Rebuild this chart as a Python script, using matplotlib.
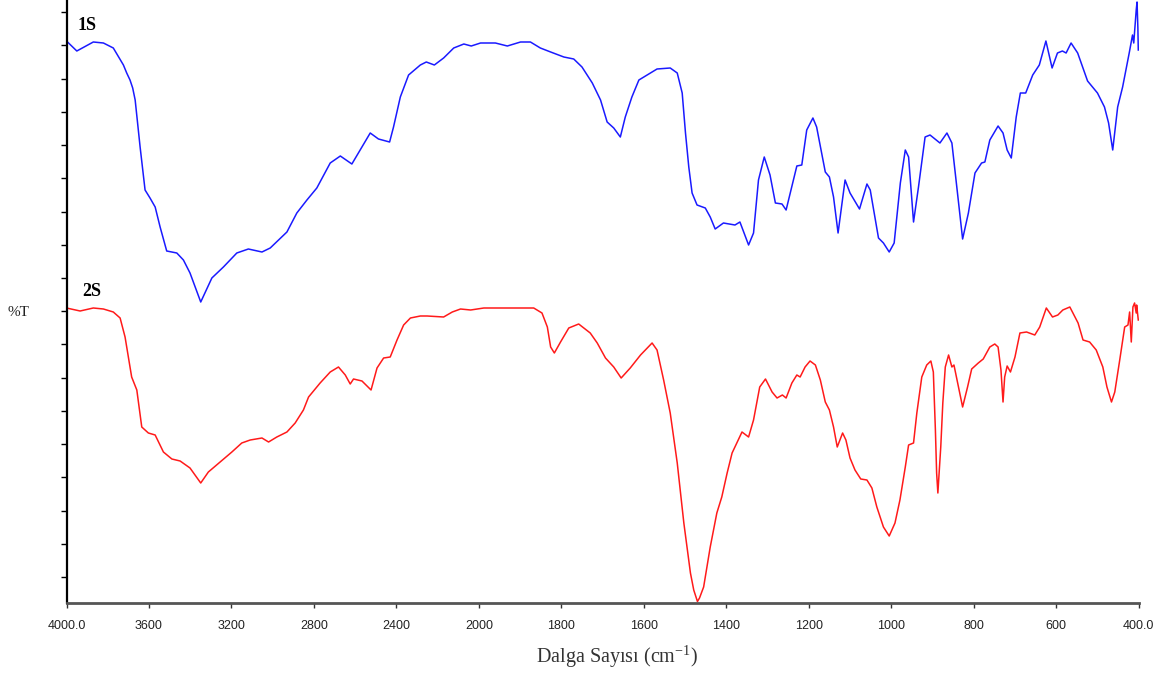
import matplotlib
matplotlib.use('Agg')
import matplotlib.pyplot as plt
import numpy as np

plt.rcParams['font.family'] = ['Liberation Sans', 'DejaVu Sans']
plt.rcParams['mathtext.default'] = 'regular'

# wavenumbers (cm-1) and offset transmittance (arbitrary units) of the two spectra
wn_1s = [4000, 3950, 3870, 3821, 3773, 3724, 3708, 3692, 3679, 3667, 3643, 3619, 3595, 3570,
         3546, 3514, 3465, 3433, 3401, 3349, 3295, 3239, 3174, 3118, 3052, 3012, 2931, 2883,
         2834, 2786, 2721, 2672, 2616, 2567, 2527, 2487, 2433, 2414, 2381, 2341, 2284, 2255,
         2216, 2171, 2122, 2073, 2037, 1996, 1960, 1931, 1899, 1875, 1851, 1826, 1794, 1770,
         1750, 1725, 1705, 1689, 1673, 1657, 1645, 1629, 1612, 1592, 1568, 1536, 1519, 1507,
         1499, 1491, 1483, 1471, 1451, 1439, 1427, 1407, 1379, 1367, 1346, 1334, 1322, 1308,
         1294, 1281, 1265, 1255, 1229, 1217, 1205, 1190, 1181, 1160, 1150, 1140, 1129, 1112,
         1100, 1077, 1059, 1051, 1031, 1019, 1005, 993, 978, 966, 958, 946, 934, 918, 906, 882,
         865, 853, 841, 827, 813, 797, 781, 773, 761, 741, 729, 719, 709, 697, 687, 674, 657,
         641, 625, 610, 597, 585, 576, 564, 548, 524, 500, 483, 473, 463, 451, 439, 423, 415,
         412, 406, 404, 402, 401]
t_1s = [562, 552, 561, 560, 555, 538, 530, 523, 515, 503, 456, 413, 405, 396,
        376, 352, 350, 343, 330, 301, 325, 336, 350, 354, 351, 355, 371, 390,
        403, 415, 440, 447, 439, 456, 470, 464, 461, 476, 506, 528, 538, 541,
        538, 545, 555, 559, 557, 560, 560, 557, 561, 561, 555, 551, 546, 544,
        536, 520, 503, 481, 475, 466, 486, 506, 523, 528, 534, 535, 530, 510,
        470, 436, 410, 398, 395, 386, 374, 380, 378, 381, 358, 370, 423, 446,
        428, 400, 399, 393, 437, 438, 473, 485, 476, 431, 426, 406, 370, 423,
        410, 394, 419, 413, 365, 360, 351, 360, 420, 453, 446, 381, 416, 466, 468, 460,
        470, 460, 416, 364, 390, 430, 440, 441, 463, 477, 470, 453, 445, 486, 510, 510, 528,
        538, 562, 535, 550, 552, 550, 560, 550, 522, 510, 496, 480, 453, 496, 516, 550, 568,
        560, 593, 601, 575, 553]

wn_2s = [4000, 3934, 3870, 3821, 3773, 3740, 3716, 3700, 3684, 3659, 3635, 3603, 3570, 3530,
         3489, 3449, 3401, 3349, 3312, 3255, 3198, 3150, 3109, 3052, 3020, 2980, 2931, 2891,
         2851, 2826, 2770, 2721, 2681, 2648, 2624, 2608, 2567, 2523, 2494, 2462, 2430, 2397,
         2365, 2332, 2284, 2251, 2171, 2129, 2089, 2040, 1988, 1923, 1867, 1847, 1834, 1826,
         1817, 1802, 1782, 1758, 1730, 1713, 1693, 1673, 1655, 1633, 1608, 1580, 1568, 1552,
         1536, 1519, 1503, 1487, 1479, 1470, 1465, 1455, 1439, 1423, 1411, 1398, 1386, 1362,
         1346, 1334, 1319, 1305, 1289, 1277, 1264, 1255, 1241, 1229, 1221, 1209, 1197, 1184,
         1172, 1160, 1150, 1140, 1131, 1118, 1110, 1100, 1088, 1074, 1059, 1047, 1035, 1019,
         1005, 991, 979, 966, 958, 946, 938, 926, 914, 904, 898, 893, 890, 887, 884, 880, 875,
         869, 861, 853, 848, 837, 827, 815, 805, 789, 777, 761, 749, 741, 734, 729, 725, 719,
         711, 700, 688, 672, 652, 640, 624, 609, 596, 584, 567, 547, 535, 519, 503, 487, 477,
         466, 458, 446, 434, 426, 422, 418, 414, 410, 406, 405, 401]
t_2s = [295, 292, 295, 294, 291, 285, 266, 246, 226, 213, 176, 170, 168, 151,
        144, 142, 135, 120, 131, 141, 151, 160, 163, 165, 161, 166, 171, 180,
        193, 206, 220, 231, 236, 228, 219, 224, 222, 213, 235, 245, 246, 263,
        278, 285, 287, 287, 286, 291, 294, 293, 295, 295, 295, 290, 276, 256,
        250, 261, 275, 279, 270, 260, 245, 236, 225, 235, 248, 260, 253, 223,
        190, 140, 80, 30, 13, 1.5, 5, 16, 56, 90, 106, 130, 150, 171,
        166, 183, 216, 224, 211, 205, 208, 205, 220, 228, 226, 236, 242, 238,
        223, 201, 193, 176, 156, 170, 163, 145, 133, 124, 123, 115, 96, 76,
        67, 80, 103, 136, 158, 160, 190, 226, 238, 242, 231, 173, 130, 110, 130, 156, 200,
        236, 248, 236, 238, 216, 196, 216, 234, 240, 244, 256, 259, 256, 233, 201, 226, 237,
        231, 246, 270, 271, 268, 276, 295, 286, 288, 293, 296, 280, 263, 261, 253, 236, 216,
        201, 211, 243, 276, 278, 291, 261, 296, 300, 290, 298, 283]

xticks = [4000, 3600, 3200, 2800, 2400, 2000, 1800, 1600, 1400, 1200, 1000, 800, 600, 400]
xticklabels = ['4000.0', '3600', '3200', '2800', '2400', '2000', '1800', '1600',
               '1400', '1200', '1000', '800', '600', '400.0']


# above 2000 cm-1 the axis is compressed by a factor of two
def fwd(x):
    x = np.asarray(x, dtype=float)
    return np.where(x > 2000, 2000 + (x - 2000) / 2, x)


def inv(u):
    u = np.asarray(u, dtype=float)
    return np.where(u > 2000, 2000 + (u - 2000) * 2, u)


fig = plt.figure(figsize=(11.7, 6.75), dpi=100)
ax = fig.add_axes([66.5 / 1170, 72 / 675, (1138.7 - 66.5) / 1170, 603 / 675])

ax.plot(wn_1s, t_1s, color='#1a1aff', lw=1.1, solid_joinstyle='round')
ax.plot(wn_2s, t_2s, color='#ff1a1a', lw=1.1, solid_joinstyle='round')

ax.set_xscale('function', functions=(fwd, inv))
ax.set_xlim(4000, 400)
ax.set_ylim(0, 603)
ax.set_xticks(xticks)
ax.set_xticklabels(xticklabels)
ax.set_yticks(np.arange(26, 600, 33.22))
ax.set_yticklabels([])
ax.minorticks_off()

for s in ['top', 'right']:
    ax.spines[s].set_visible(False)
ax.spines['left'].set_linewidth(1.6)
ax.spines['left'].set_color('black')
ax.spines['bottom'].set_linewidth(2)
ax.spines['bottom'].set_color('#555555')
ax.tick_params(axis='y', length=4.5, width=1, color='black')
ax.tick_params(axis='x', length=3.5, width=1, color='#333333', pad=9,
               labelsize=9, labelcolor='#222222')

fig.text(617 / 1170, 1 - 657 / 675, 'Dalga Sayısı (cm$^{-1}$)', ha='center', va='center',
         family='Liberation Serif', fontsize=14.5, color='#333333')
fig.text(8 / 1170, 1 - 312 / 675, '%T', ha='left', va='center',
         family='Liberation Serif', fontsize=11, color='#222222')
fig.text(78 / 1170, 1 - 26 / 675, '1S', ha='left', va='center',
         family='Liberation Serif', fontweight='bold', fontsize=13)
fig.text(82 / 1170, 1 - 291 / 675, '2S', ha='left', va='center',
         family='Liberation Serif', fontweight='bold', fontsize=13)

plt.savefig('out.png', dpi=100)
